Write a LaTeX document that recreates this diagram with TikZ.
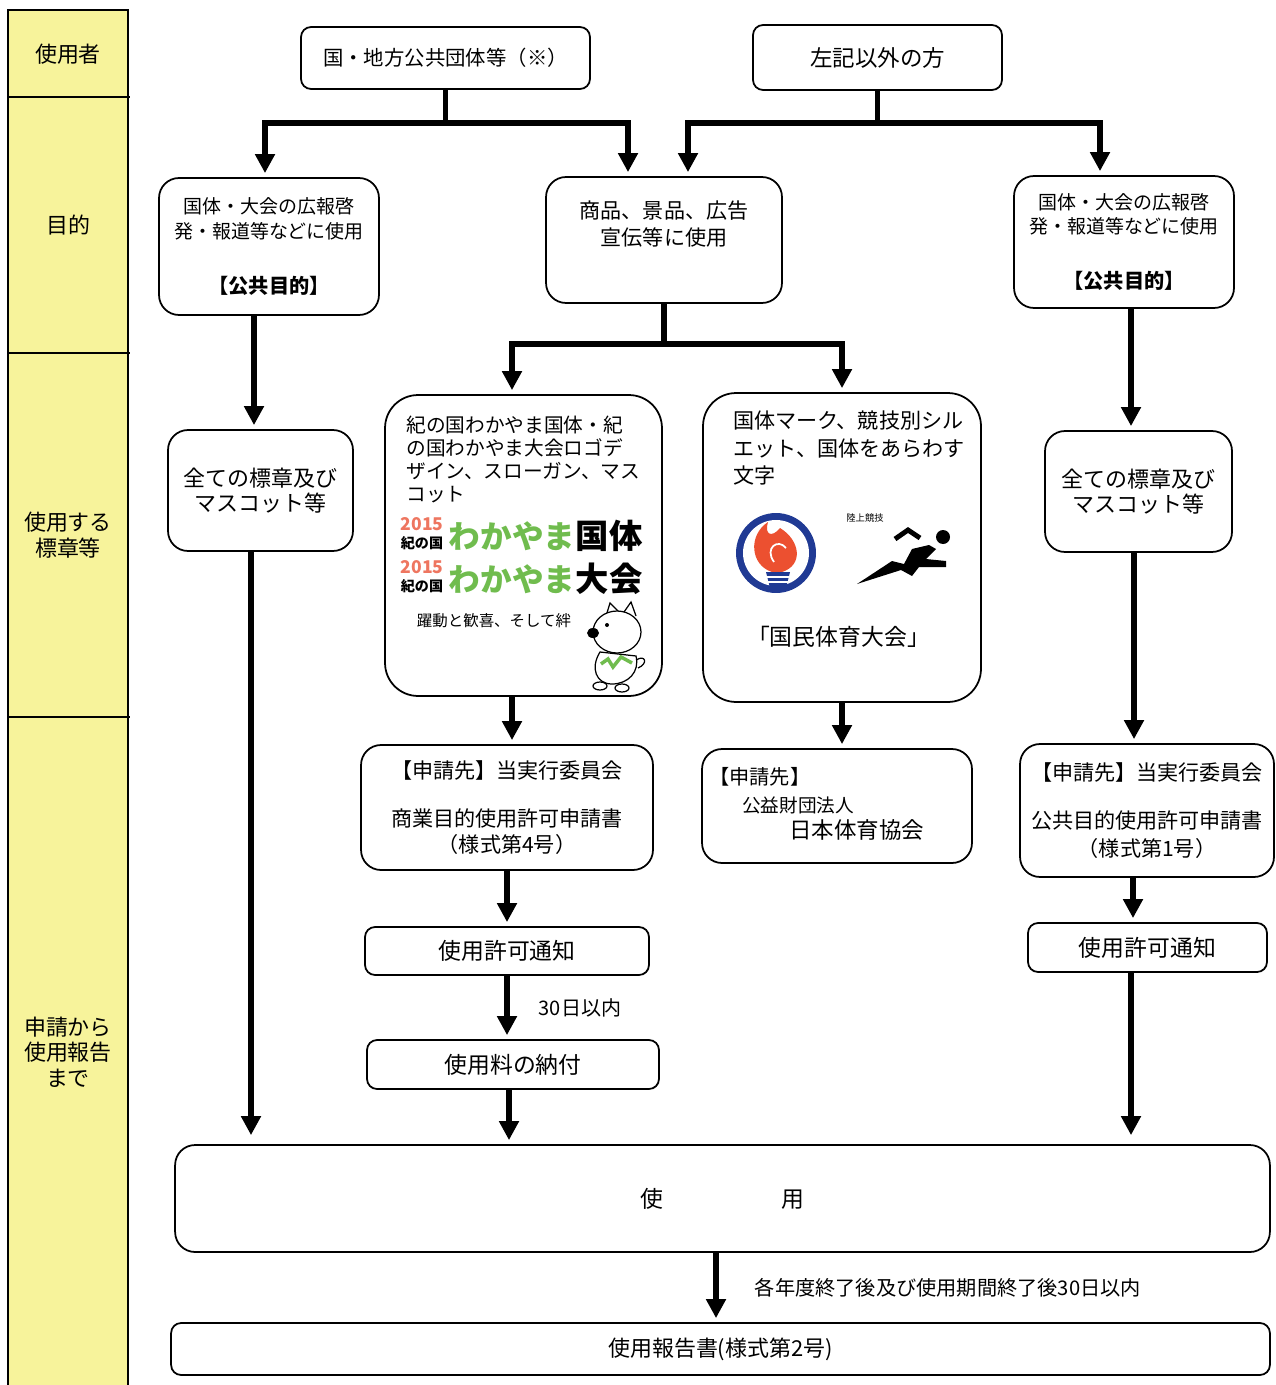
\documentclass[tikz,border=0pt]{standalone}
\usepackage{fontspec}
\setmainfont{Noto Sans CJK JP}
\usepackage{tikz}
\usetikzlibrary{arrows.meta}
\usetikzlibrary{calc}
\usetikzlibrary{positioning}
\newcommand*{\fsz}[2]{\fontsize{#1}{#2}\selectfont}
\definecolor{bandyellow}{RGB}{247,243,155}
\definecolor{logogreen}{RGB}{112,188,78}
\definecolor{logored}{RGB}{238,118,96}
\definecolor{emblemblue}{RGB}{32,58,148}
\definecolor{flamered}{RGB}{236,80,48}
\tikzset{
    box/.style = {draw,line width=1pt,rounded corners=0.4cm,align=center,inner sep=0},
    smallbox/.style = {box,rounded corners=0.2cm},
    stage/.style = {align=center,font=\fsz{12.5}{14.5}},
    note/.style = {inner sep=0,anchor=west},
    band/.style = {line width=0.9pt},
    flow/.style = {line width=3.2pt,shorten >=0.08cm,-{Triangle[length=0.38cm,width=0.38cm]}},
    longflow/.style = {flow,shorten >=0.18cm}
}

\begin{document}
\begin{tikzpicture}[x=0.02cm,y=-0.02cm]
    \useasboundingbox (0,0) rectangle (1275,1385);
    % Stages
    \fill[bandyellow] (8,10) rectangle (128,1385);
    \draw[band] (8,1385) -- (8,10) -- (128,10) -- (128,1385);
    \foreach \yy in {97,353,717}
        \draw[band] (8,\yy) -- (130,\yy);
    \node[stage] (who) at (68,54) {使用者};
    \node[stage] (aim) at (68,225) {目的};
    \node[stage] (mark) at (68,535) {使用する\\標章等};
    \node[stage] (steps) at (68,1052) {申請から\\使用報告\\まで};
    % Users
    \node[smallbox,minimum width=5.78cm,minimum height=1.24cm,font=\fsz{11.6}{14}] (gov) at (445.5,58) {国・地方公共団体等（※）};
    \node[smallbox,minimum width=4.98cm,minimum height=1.3cm,font=\fsz{12.8}{15}] (other) at (877.5,57.5) {左記以外の方};
    % Purposes
    \node[box,minimum width=4.4cm,minimum height=2.74cm,font=\fsz{10.8}{14.2}] (govaim) at (269,246.5)
        {国体・大会の広報啓\\発・報道等などに使用\\[0.6cm]{\bfseries\fsz{11.5}{14.2}【公共目的】}};
    \node[box,minimum width=4.72cm,minimum height=2.52cm] (bizaim) at (664,240) {};
    \node[align=center,font=\fsz{12}{15.4}] (bizaimtxt) at (664,224.5) {商品、景品、広告\\宣伝等に使用};
    \node[box,minimum width=4.4cm,minimum height=2.64cm,font=\fsz{10.8}{14.2}] (othaim) at (1124,242)
        {国体・大会の広報啓\\発・報道等などに使用\\[0.6cm]{\bfseries\fsz{11.5}{14.2}【公共目的】}};
    % Marks
    \node[box,minimum width=3.7cm,minimum height=2.42cm,font=\fsz{12.5}{14.2}] (govmark) at (260.5,490.5) {全ての標章及び\\マスコット等};
    \node[box,rounded corners=0.66cm,minimum width=5.54cm,minimum height=6.02cm] (bizlogo) at (523.5,545.5) {};
    \node[note,align=left,font=\fsz{11.2}{13.1}] (bizlogotxt) at (406,459.5)
        {紀の国わかやま国体・紀\\の国わかやま大会ロゴデ\\ザイン、スローガン、マス\\コット};
    \foreach \n/\ly/\word in {1/536/国体,2/579/大会} {
        \node[inner sep=0,font=\fsz{10}{10}\bfseries,text=logored] (year\n) at (422,\ly-12) {2015};
        \node[inner sep=0,font=\fsz{8}{8}\bfseries] (kii\n) at (422,\ly+7) {紀の国};
        \node[inner sep=0,font=\fsz{18}{18}\bfseries,text=logogreen] (waka\n) at (512,\ly) {わかやま};
        \node[inner sep=0,font=\fsz{19}{19}\bfseries] (meet\n) at (609,\ly) {\word};
    }
    \node[inner sep=0,font=\fsz{8.8}{10}] (motto) at (494,621) {躍動と歓喜、そして絆};
    % Mascot
    \begin{scope}[line width=0.7pt]
        \draw[fill=white] (600,652) .. controls (590,668) and (596,684) .. (612,684)
            .. controls (628,684) and (640,672) .. (636,656) -- cycle;
        \draw (636,660) .. controls (646,654) and (648,664) .. (638,668);
        \draw[fill=white] (600,686) ellipse [x radius=0.14cm,y radius=0.08cm];
        \draw[fill=white] (622,688) ellipse [x radius=0.14cm,y radius=0.08cm];
        \draw[fill=white] (606,616) -- (610,603) -- (619,612);
        \draw[fill=white] (624,612) -- (631,602) -- (636,616);
        \draw[fill=white] (617,632) ellipse [x radius=0.48cm,y radius=0.42cm];
        \fill (593,633) ellipse [x radius=0.12cm,y radius=0.1cm];
        \fill (607,625) circle (0.04cm);
        \draw[logogreen,line width=2pt] (601,664) -- (608,659) -- (613,667) -- (621,657) -- (632,663);
    \end{scope}
    \node[box,rounded corners=0.66cm,minimum width=5.56cm,minimum height=6.18cm] (bizmark) at (842,547.5) {};
    \node[note,align=left,font=\fsz{12}{15.4}] (bizmarktxt) at (733,448)
        {国体マーク、競技別シル\\エット、国体をあらわす\\文字};
    % Emblem
    \fill[emblemblue] (776,553) circle (0.8cm);
    \fill[white] (776,553) circle (0.66cm);
    \fill[flamered] (772,572) .. controls (750,565) and (748,535) .. (768,522)
        .. controls (764,535) and (772,538) .. (780,528)
        .. controls (800,540) and (804,565) .. (782,572) -- cycle;
    \draw[white,line width=1pt] (774,562) .. controls (764,548) and (778,538) .. (786,548);
    \fill[emblemblue] (766,572) -- (790,572) -- (786,588) -- (770,588) -- cycle;
    \draw[white,line width=0.6pt] (767,577) -- (789,577) (768,582) -- (788,582);
    % Runner
    \node[inner sep=0,font=\fsz{5.3}{6}] (track) at (865,518) {陸上競技};
    \fill (943,537) circle (0.14cm);
    \draw[line width=2.8pt] (895,539) -- (908,530) -- (920,538);
    \fill (857,584) -- (892,561) -- (904,564) -- (912,549) -- (929,545) -- (936,549) -- (926,559)
        -- (946,561) -- (946,567) -- (919,567) -- (912,576) -- (901,570) -- cycle;
    \node[inner sep=0,font=\fsz{13}{15}] (kokutai) at (838.5,637) {「国民体育大会」};
    \node[box,minimum width=3.74cm,minimum height=2.42cm,font=\fsz{12.5}{14.2}] (othmark) at (1138.5,491.5) {全ての標章及び\\マスコット等};
    % Applications
    \node[box,minimum width=5.84cm,minimum height=2.5cm,font=\fsz{12}{14.8}] (bizapply) at (507,807.5)
        {【申請先】当実行委員会\\[0.45cm]商業目的使用許可申請書\\（様式第4号）};
    \node[box,minimum width=5.4cm,minimum height=2.28cm] (jasa) at (837,806) {};
    \node[note,align=left,font=\fsz{11.5}{14.5}] (jasatxt) at (709,804)
        {【申請先】\\[0.05cm]\hspace*{0.66cm}{\fsz{10.6}{13}公益財団法人}\\\hspace*{1.6cm}{\fsz{12.8}{14.5}日本体育協会}};
    \node[box,minimum width=5.08cm,minimum height=2.66cm,font=\fsz{12}{15.5}] (othapply) at (1147,810.5)
        {【申請先】当実行委員会\\[0.42cm]公共目的使用許可申請書\\（様式第1号）};
    \node[smallbox,minimum width=5.68cm,minimum height=0.96cm,font=\fsz{13}{15}] (bizok) at (507,951) {使用許可通知};
    \node[smallbox,minimum width=5.84cm,minimum height=0.98cm,font=\fsz{13}{15}] (bizfee) at (513,1064.5) {使用料の納付};
    \node[smallbox,minimum width=4.78cm,minimum height=0.98cm,font=\fsz{13}{15}] (othok) at (1147.5,947.5) {使用許可通知};
    % Use and report
    \node[box,minimum width=21.9cm,minimum height=2.14cm,font=\fsz{13}{15}] (use) at (722.5,1198.5) {使\hspace{2.36cm}用};
    \node[smallbox,minimum width=21.98cm,minimum height=1.04cm,font=\fsz{12.5}{15}] (report) at (720.5,1349) {使用報告書(様式第2号)};
    % Flows
    \draw[flow] (gov.south) -- ++(0,33) -| ($(govaim.north)+(-4,0)$);
    \draw[flow] (gov.south) -- ++(0,33) -| ($(bizaim.north)+(-36,0)$);
    \draw[flow] (other.south) -- ++(0,32) -| ($(bizaim.north)+(24,0)$);
    \draw[flow] (other.south) -- ++(0,32) -| ($(othaim.north)+(-24,0)$);
    \draw[flow] ($(govaim.south)+(-15,0)$) -- ($(govaim.south|-govmark.north)+(-15,0)$);
    \draw[flow] (bizaim.south) -- ++(0,40) -| ($(bizlogo.north)+(-11.5,0)$);
    \draw[flow] (bizaim.south) -- ++(0,40) -| (bizmark.north);
    \draw[flow] ($(othaim.south)+(7,0)$) -- ($(othaim.south|-othmark.north)+(7,0)$);
    \draw[flow] ($(bizlogo.south)+(-11.5,0)$) -- ($(bizlogo.south|-bizapply.north)+(-11.5,0)$);
    \draw[flow] (bizmark.south) -- (bizmark.south|-jasa.north);
    \draw[flow] ($(othmark.south)+(-4.5,0)$) -- ($(othmark.south|-othapply.north)+(-4.5,0)$);
    \draw[flow] (bizapply.south) -- (bizok.north);
    \draw[flow] (bizok.south) -- node[note,xshift=0.58cm,font=\fsz{11.4}{13}] (days) {30日以内} (bizok.south|-bizfee.north);
    \draw[flow] ($(bizfee.south)+(-4,0)$) -- ($(bizfee.south|-use.north)+(-4,0)$);
    \draw[longflow] ($(govmark.south)+(-9.5,0)$) -- ($(govmark.south|-use.north)+(-9.5,0)$);
    \draw[flow] ($(othapply.south)+(-14,0)$) -- ($(othapply.south|-othok.north)+(-14,0)$);
    \draw[longflow] ($(othok.south)+(-16.5,0)$) -- ($(othok.south|-use.north)+(-16.5,0)$);
    \draw[flow] ($(use.south)+(-6.5,0)$) -- node[note,xshift=0.72cm,font=\fsz{11.5}{13}] (due)
        {各年度終了後及び使用期間終了後30日以内} ($(use.south|-report.north)+(-6.5,0)$);
\end{tikzpicture}
\end{document}
